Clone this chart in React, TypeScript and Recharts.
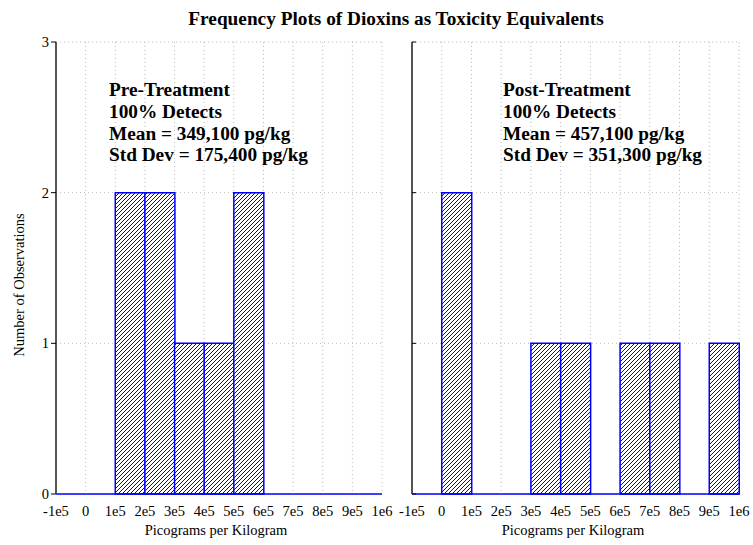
import React from 'react';
import { Bar, BarChart, CartesianGrid, XAxis, YAxis } from 'recharts';

// bin centres (width 1e5) from -1e5 to 1e6
const binCenters = [-50000, 50000, 150000, 250000, 350000, 450000, 550000, 650000, 750000, 850000, 950000];
const preCounts = [0, 0, 2, 2, 1, 1, 2, 0, 0, 0, 0];
const postCounts = [0, 2, 0, 0, 1, 1, 0, 1, 1, 0, 1];

const xTicks = [-100000, 0, 100000, 200000, 300000, 400000, 500000, 600000, 700000, 800000, 900000, 1000000];
const xTickLabels = ['-1e5', '0', '1e5', '2e5', '3e5', '4e5', '5e5', '6e5', '7e5', '8e5', '9e5', '1e6'];
const yTicks = [0, 1, 2, 3];

const preNotes = ['Pre-Treatment', '100% Detects', 'Mean = 349,100 pg/kg', 'Std Dev = 175,400 pg/kg'];
const postNotes = ['Post-Treatment', '100% Detects', 'Mean = 457,100 pg/kg', 'Std Dev = 351,300 pg/kg'];

const SERIF = '"Liberation Serif", "Times New Roman", serif';
const BLUE = '#0000ff';
const FRAME = '#555555';
const X_DOMAIN = [-100000, 1000000];
const TICK_FONT = 14.5;

const tickLabel = (v: number) => xTickLabels[xTicks.indexOf(v)] ?? '';
const blank = () => '';

function XTick({ x, y, payload }: any) {
  return (
    <text x={x} y={y} dy={11} textAnchor="middle" fontSize={TICK_FONT} fontFamily={SERIF} fill="#000">
      {tickLabel(payload.value)}
    </text>
  );
}

function YTick({ x, y, payload }: any) {
  return (
    <text x={x} y={y} dy={5} textAnchor="end" fontSize={TICK_FONT} fontFamily={SERIF} fill="#000">
      {payload.value}
    </text>
  );
}

interface PanelProps {
  id: string;
  counts: number[];
  showYLabels: boolean;
  width: number;
  margin: { top: number; right: number; left: number; bottom: number };
  yWidth: number;
}

function Panel({ id, counts, showYLabels, width, margin, yWidth }: PanelProps) {
  const data = binCenters.map((x, i) => ({ x, count: counts[i] }));
  return (
    <BarChart width={width} height={545} data={data} margin={margin} barCategoryGap={0} barGap={0}>
      <defs>
        <pattern id={id} patternUnits="userSpaceOnUse" width="4" height="4">
          <rect width="4" height="4" fill="#ffffff" />
          <path d="M-1,1 l2,-2 M0,4 l4,-4 M3,5 l2,-2" stroke={BLUE} strokeWidth="1" />
        </pattern>
      </defs>
      <CartesianGrid stroke="#bbbbbb" strokeDasharray="1 3" />
      <XAxis
        dataKey="x"
        type="number"
        domain={X_DOMAIN}
        ticks={xTicks}
        interval={0}
        tick={<XTick />}
        tickLine={false}
        tickMargin={5}
        axisLine={{ stroke: BLUE, strokeWidth: 1.5 }}
        height={30}
      />
      {/* small inward tick marks on the bottom edge */}
      <XAxis
        xAxisId="inner"
        dataKey="x"
        type="number"
        domain={X_DOMAIN}
        ticks={xTicks}
        interval={0}
        mirror
        tickFormatter={blank}
        tickSize={3}
        tickLine={{ stroke: '#000' }}
        axisLine={false}
        height={0}
      />
      <XAxis
        xAxisId="top"
        orientation="top"
        dataKey="x"
        type="number"
        domain={X_DOMAIN}
        ticks={xTicks}
        interval={0}
        mirror
        tickFormatter={blank}
        tickSize={3}
        tickLine={{ stroke: '#000' }}
        axisLine={{ stroke: FRAME, strokeWidth: 1.5 }}
        height={0}
      />
      <YAxis
        domain={[0, 3]}
        ticks={yTicks}
        interval={0}
        width={yWidth}
        tick={showYLabels ? <YTick /> : true}
        tickFormatter={showYLabels ? undefined : blank}
        tickSize={showYLabels ? 5 : 4}
        mirror={!showYLabels}
        tickLine={{ stroke: '#000' }}
        axisLine={{ stroke: FRAME, strokeWidth: 2 }}
      />
      <YAxis
        yAxisId="right"
        orientation="right"
        domain={[0, 3]}
        ticks={yTicks}
        width={0}
        tick={false}
        tickLine={false}
        axisLine={{ stroke: FRAME, strokeWidth: 1.5 }}
      />
      <Bar dataKey="count" fill={`url(#${id})`} stroke={BLUE} strokeWidth={1.5} isAnimationActive={false} />
    </BarChart>
  );
}

function Notes({ lines, left }: { lines: string[]; left: number }) {
  return (
    <div
      style={{
        position: 'absolute',
        left,
        top: 79,
        fontFamily: SERIF,
        fontWeight: 'bold',
        fontSize: 19.3,
        lineHeight: '21.8px',
        whiteSpace: 'nowrap',
        color: '#000',
      }}
    >
      {lines.map((l) => (
        <div key={l}>{l}</div>
      ))}
    </div>
  );
}

const axisTitle: React.CSSProperties = {
  position: 'absolute',
  fontFamily: SERIF,
  fontSize: 14.5,
  whiteSpace: 'nowrap',
  color: '#000',
};

export default function App() {
  return (
    <div style={{ position: 'absolute', left: 0, top: 0, width: 753, height: 545, background: '#fff' }}>
      <div
        style={{
          position: 'absolute',
          left: 396,
          top: 8,
          transform: 'translateX(-50%)',
          whiteSpace: 'nowrap',
          fontFamily: SERIF,
          fontWeight: 'bold',
          fontSize: 19.3,
          lineHeight: '21px',
        }}
      >
        Frequency Plots of Dioxins as Toxicity Equivalents
      </div>
      <div style={{ position: 'absolute', left: 0, top: 0 }}>
        <Panel
          id="hatchPre"
          counts={preCounts}
          showYLabels
          width={400}
          yWidth={30}
          margin={{ top: 42, right: 18, left: 26, bottom: 21 }}
        />
      </div>
      <div style={{ position: 'absolute', left: 390, top: 0 }}>
        <Panel
          id="hatchPost"
          counts={postCounts}
          showYLabels={false}
          width={363}
          yWidth={22}
          margin={{ top: 42, right: 14, left: 22, bottom: 21 }}
        />
      </div>
      <Notes lines={preNotes} left={109} />
      <Notes lines={postNotes} left={503} />
      <div style={{ ...axisTitle, left: 216, top: 522, transform: 'translateX(-50%)' }}>Picograms per Kilogram</div>
      <div style={{ ...axisTitle, left: 573, top: 522, transform: 'translateX(-50%)' }}>Picograms per Kilogram</div>
      <div
        style={{
          ...axisTitle,
          left: 19,
          top: 285,
          transform: 'translate(-50%, -50%) rotate(-90deg)',
        }}
      >
        Number of Observations
      </div>
    </div>
  );
}
